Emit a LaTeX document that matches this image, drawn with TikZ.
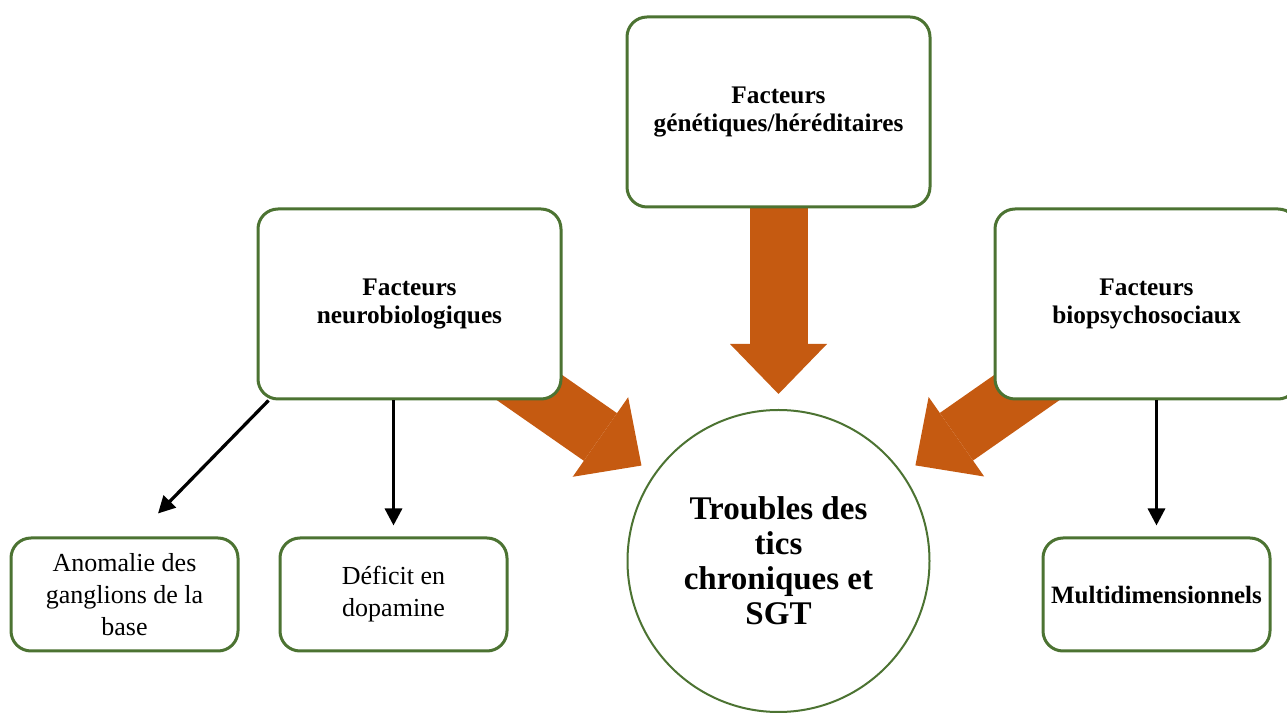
\documentclass[tikz,border=0pt]{standalone}
\usepackage{fontspec}
\setmainfont{Liberation Serif}
\usetikzlibrary{arrows.meta, positioning, backgrounds}
\definecolor{vertCadre}{HTML}{4C7332}
\definecolor{orangeFleche}{HTML}{C55A11}

\begin{document}
\begin{tikzpicture}[
        facteur/.style={draw=vertCadre, line width=0.06cm, fill=white, rounded corners=0.4cm,
            minimum width=6.06cm, minimum height=3.8cm, align=center,
            font=\bfseries\fontsize{14.4pt}{16pt}\selectfont},
        effet/.style={draw=vertCadre, line width=0.06cm, fill=white, rounded corners=0.4cm,
            minimum width=4.54cm, minimum height=2.26cm, align=center,
            font=\fontsize{14.8pt}{18.2pt}\selectfont},
        centre/.style={circle, draw=vertCadre, line width=0.04cm, fill=white, inner sep=0pt,
            minimum size=6.04cm, align=center,
            font=\bfseries\fontsize{18.8pt}{19.9pt}\selectfont},
        grosse/.style={orangeFleche, line width=1.16cm, shorten >=0.3cm,
            -{Triangle[length=1cm, width=1.94cm, line width=0pt]}},
        fine/.style={black, line width=0.065cm, -{Triangle[length=0.34cm, width=0.34cm]}}]
    \useasboundingbox (0,0) rectangle (25.74,14.26);
    \clip (0,0) rectangle (25.74,14.26);
    \node[facteur] (gen)   at (15.57,12.02) {Facteurs\\génétiques/héréditaires};
    \node[facteur] (neuro) at (8.19,8.18)   {Facteurs\\neurobiologiques};
    \node[facteur] (bio)   at (22.93,8.18)  {Facteurs\\biopsychosociaux};
    \node[centre]  (tics)  at (15.57,3.04)  {Troubles des\\tics\\chroniques et\\SGT};
    \node[effet]   (anom)  at (2.49,2.37)   {Anomalie des\\ganglions de la\\base};
    \node[effet]   (defi)  at (7.87,2.37)   {Déficit en\\dopamine};
    \node[effet, font=\bfseries\fontsize{14.2pt}{15.9pt}\selectfont] (multi) at (23.13,2.37) {Multidimensionnels};
    % grosses fleches sous les cadres
    \begin{scope}[on background layer]
        \foreach \f in {gen,neuro,bio} \draw[grosse] (\f.center) -- (tics);
    \end{scope}
    \coordinate (anomPointe) at ([xshift=0.67cm,yshift=0.46cm]anom.north);
    \draw[fine] ([xshift=0.24cm]neuro.south west) -- (anomPointe);
    \draw[fine] (neuro.south -| defi.north) -- ([yshift=0.22cm]defi.north);
    \draw[fine] (bio.south -| multi.north) -- ([yshift=0.22cm]multi.north);
\end{tikzpicture}
\end{document}
